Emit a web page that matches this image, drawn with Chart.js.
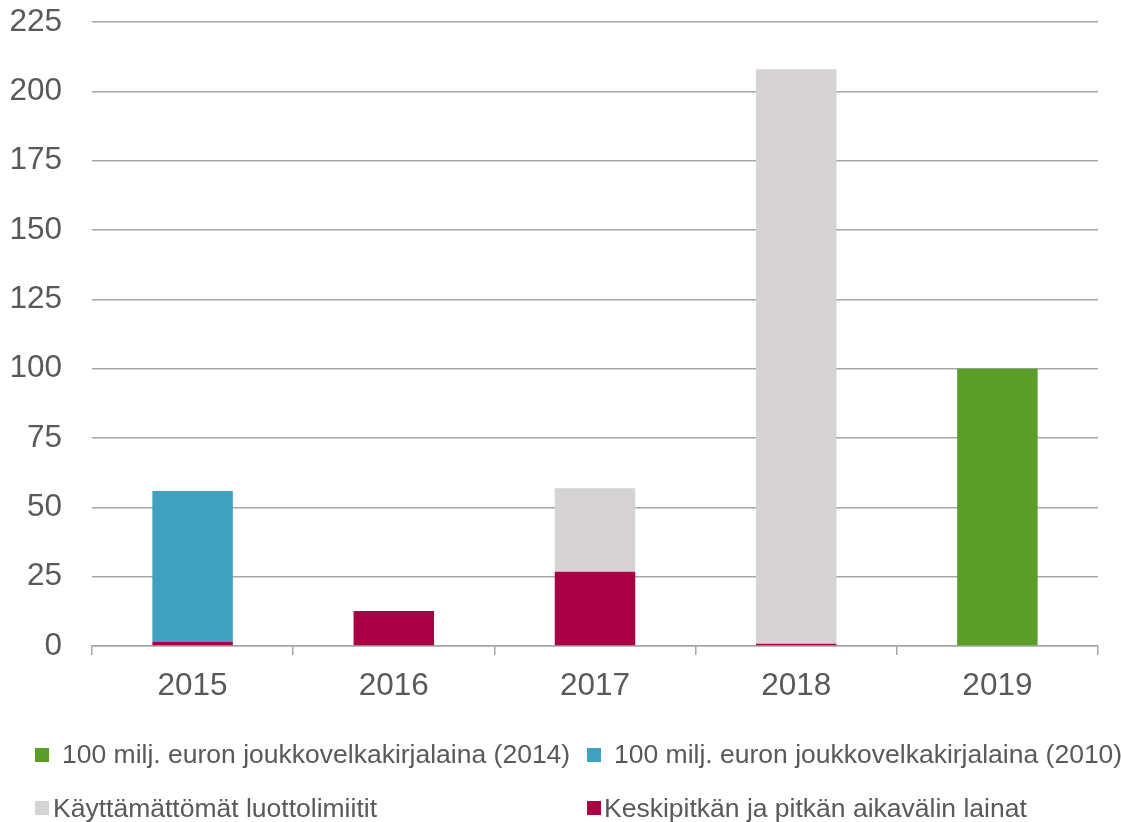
<!DOCTYPE html>
<html>
<head>
<meta charset="utf-8">
<script src="https://cdn.jsdelivr.net/npm/chart.js@4/dist/chart.umd.min.js"></script>
<style>
  html, body { margin: 0; padding: 0; background: #ffffff; }
  #wrap { position: relative; width: 1122px; height: 822px; overflow: hidden; }
  canvas { position: absolute; left: 0; top: 0; }
  .lg { position: absolute; font-family: "Liberation Sans", Arial, sans-serif; font-size: 26.5px; color: #595959; line-height: 1; white-space: nowrap; }
  .sw { position: absolute; width: 14px; height: 14px; }
</style>
</head>
<body>
<div id="wrap">
  <canvas id="c" width="1122" height="822"></canvas>
  <div id="legend"></div>
</div>
<script>
const categories = ["2015", "2016", "2017", "2018", "2019"];
const seriesNames = [
  "Keskipitkän ja pitkän aikavälin lainat",
  "100 milj. euron joukkovelkakirjalaina (2010)",
  "Käyttämättömät luottolimiitit",
  "100 milj. euron joukkovelkakirjalaina (2014)"
];
const lainat = [1.4, 12.6, 26.8, 0.8, null];
const jvk2010 = [54.5, null, null, null, null];
const limiitit = [null, null, 30.1, 207.2, null];
const jvk2014 = [null, null, null, null, 100];
const yTicks = [0, 25, 50, 75, 100, 125, 150, 175, 200, 225];

const colors = ["#a80043", "#3fa0c0", "#d5d3d4", "#5a9e28"];
const values = [lainat, jvk2010, limiitit, jvk2014];

Chart.defaults.font.family = '"Liberation Sans", Arial, sans-serif';
Chart.defaults.color = "#595959";

const datasets = values.map((v, i) => ({
  label: seriesNames[i],
  data: v,
  backgroundColor: colors[i],
  borderWidth: 0,
  categoryPercentage: 1,
  barPercentage: 0.4
}));

new Chart(document.getElementById("c"), {
  type: "bar",
  data: { labels: categories, datasets },
  options: {
    responsive: false,
    devicePixelRatio: 1,
    animation: false,
    layout: { padding: { left: 0, right: 24, top: 22, bottom: 116 } },
    plugins: { legend: { display: false }, tooltip: { enabled: false } },
    scales: {
      x: {
        stacked: true,
        offset: true,
        grid: { display: true, offset: true, drawOnChartArea: false, drawTicks: true, tickLength: 9, color: "#a6a6a6", lineWidth: 1.5 },
        border: { display: true, color: "#a6a6a6", width: 1.5 },
        ticks: { font: { size: 31.5 }, padding: 12, color: "#595959" },
        afterFit: (s) => { s.height = 60; s.paddingLeft = 0; s.paddingRight = 0; }
      },
      y: {
        stacked: true,
        min: 0,
        max: 225,
        afterBuildTicks: (s) => { s.ticks = yTicks.map(v => ({ value: v })); },
        grid: { drawTicks: false, color: "#a6a6a6", lineWidth: 1.5 },
        border: { display: false },
        ticks: { font: { size: 31.5 }, padding: 30, color: "#595959" },
        afterFit: (s) => { s.width = 92; s.paddingTop = 0; s.paddingBottom = 0; }
      }
    }
  }
});

// HTML legend (order and placement as in the reference)
const legendItems = [
  { idx: 3, sx: 35, sy: 748, tx: 62, ty: 741 },
  { idx: 1, sx: 587, sy: 748, tx: 614, ty: 741 },
  { idx: 2, sx: 35, sy: 801, tx: 53, ty: 795 },
  { idx: 0, sx: 587, sy: 801, tx: 604, ty: 795 }
];
const lg = document.getElementById("legend");
legendItems.forEach(it => {
  const sw = document.createElement("div");
  sw.className = "sw";
  sw.style.left = it.sx + "px";
  sw.style.top = it.sy + "px";
  sw.style.background = colors[it.idx];
  lg.appendChild(sw);
  const t = document.createElement("div");
  t.className = "lg";
  t.style.left = it.tx + "px";
  t.style.top = it.ty + "px";
  t.textContent = seriesNames[it.idx];
  lg.appendChild(t);
});
</script>
</body>
</html>
